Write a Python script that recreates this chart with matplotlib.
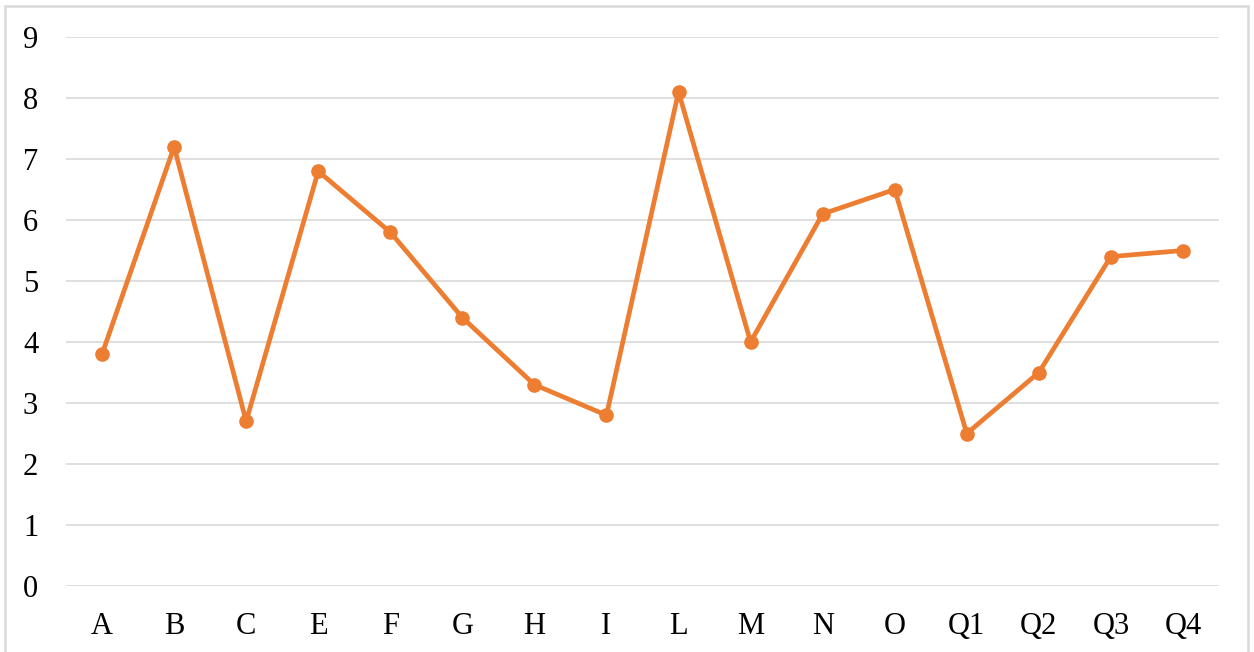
import numpy as np
from matplotlib import pyplot as plt
from matplotlib.patches import Rectangle

plt.rcParams['font.family'] = ['Liberation Serif', 'DejaVu Serif']

categories = ['A', 'B', 'C', 'E', 'F', 'G', 'H', 'I', 'L', 'M', 'N', 'O', 'Q1', 'Q2', 'Q3', 'Q4']
values     = [3.8, 7.2, 2.7, 6.8, 5.8, 4.4, 3.3, 2.8, 8.1, 4.0, 6.1, 6.5, 2.5, 3.5, 5.4, 5.5]
yticks     = list(range(0, 10))

line_color = '#ED7D31'
grid_color = '#D9D9D9'

fig = plt.figure(figsize=(12.54, 6.52), dpi=100)
ax  = fig.add_axes([66/1254, 1 - 586/652, (1219 - 66)/1254, (586 - 37)/652])

x = np.arange(len(categories))
ax.plot(x, values, color=line_color, linewidth=3.4, marker='o', markersize=9.5,
        solid_capstyle='round', solid_joinstyle='round', zorder=3)

ax.set_xlim(-0.5, len(categories) - 0.5)
ax.set_ylim(0, 9)
ax.set_xticks(x)
ax.set_xticklabels(categories)
ax.set_yticks(yticks)
ax.grid(axis='y', color=grid_color, linewidth=1.2)
ax.set_axisbelow(True)
for s in ax.spines.values():
	s.set_visible(False)
ax.tick_params(axis='both', length=0, labelsize=22)
ax.tick_params(axis='y', pad=20)
ax.tick_params(axis='x', pad=19)

# outer chart border
fig.patches.append(Rectangle((5/1254, -0.05), (1248 - 5)/1254, 1.05 - 6/652,
                             transform=fig.transFigure, fill=False,
                             edgecolor=grid_color, linewidth=1.8))

fig.savefig('out.png', dpi=100)
